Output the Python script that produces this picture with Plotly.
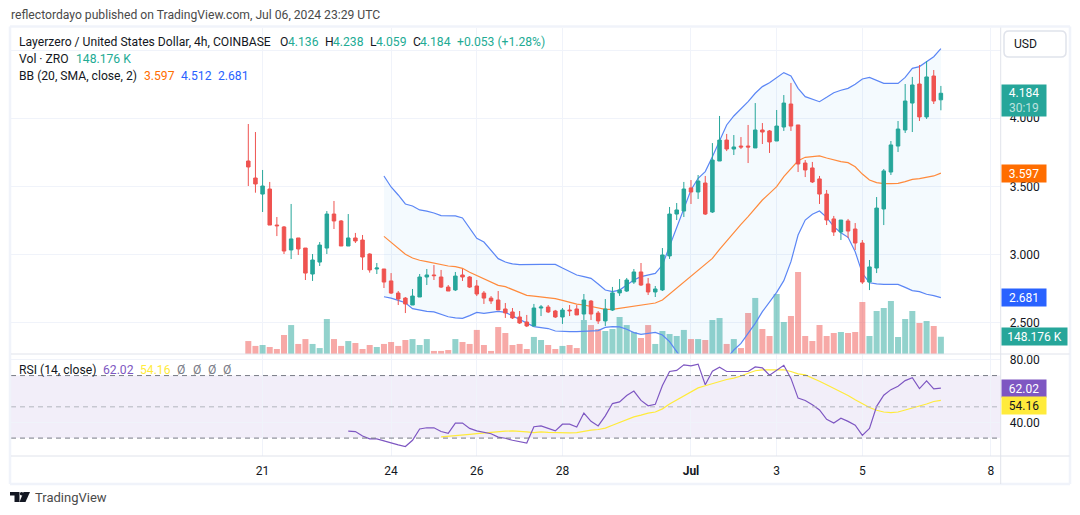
import plotly.graph_objects as go

W, H = 1080, 515

# OHLC of the 4h ZRO/USD bars, oldest first
opens = [3.686,3.561,3.443,3.480,3.215,3.201,3.032,3.120,3.046,2.855,2.943,3.046,3.296,3.245,3.061,3.120,3.105,3.002,2.892,2.892,
         2.804,2.715,2.678,2.627,2.686,2.833,2.848,2.833,2.759,2.738,2.848,2.833,2.767,2.715,2.678,2.664,2.598,2.576,2.539,2.502,
         2.473,2.605,2.612,2.583,2.539,2.590,2.598,2.561,2.656,2.568,2.510,2.590,2.716,2.730,2.796,2.870,2.782,2.723,2.738,2.988,
         3.296,3.318,3.488,3.458,3.524,3.311,3.686,3.840,3.774,3.796,3.796,3.782,3.914,3.907,3.833,3.936,4.105,3.951,3.671,3.635,
         3.554,3.443,3.260,3.164,3.245,3.186,3.083,2.796,2.899,3.333,3.605,3.796,3.914,4.112,4.252,4.010,4.311,4.136]
highs = [3.958,3.899,3.620,3.532,3.274,3.208,3.370,3.120,3.046,3.002,3.090,3.318,3.392,3.252,3.296,3.157,3.142,3.007,2.936,2.892,
         2.862,2.730,2.686,2.745,2.855,2.892,2.921,2.885,2.774,2.870,2.892,2.840,2.811,2.730,2.693,2.730,2.642,2.605,2.583,2.554,
         2.635,2.627,2.627,2.591,2.605,2.627,2.627,2.708,2.664,2.583,2.671,2.760,2.818,2.826,2.892,2.936,2.826,2.767,3.046,3.348,
         3.377,3.532,3.546,3.583,3.576,3.818,4.017,3.885,3.877,3.862,3.951,4.112,3.965,3.914,4.061,4.171,4.260,3.951,3.693,3.679,
         3.576,3.473,3.282,3.252,3.260,3.230,3.105,2.958,3.421,3.627,3.833,3.980,4.252,4.304,4.392,4.421,4.355,4.238]
lows = [3.502,3.453,3.311,3.215,3.134,3.002,2.965,2.995,2.811,2.804,2.914,3.002,3.186,3.061,3.061,3.083,2.885,2.865,2.855,2.752,
        2.708,2.627,2.568,2.627,2.686,2.774,2.811,2.752,2.730,2.730,2.804,2.752,2.693,2.635,2.635,2.591,2.532,2.524,2.488,2.465,
        2.473,2.546,2.568,2.532,2.488,2.546,2.554,2.517,2.517,2.488,2.473,2.583,2.694,2.723,2.782,2.767,2.701,2.686,2.730,2.966,
        3.252,3.274,3.370,3.407,3.289,3.304,3.686,3.759,3.730,3.774,3.671,3.782,3.811,3.745,3.833,3.907,3.907,3.605,3.568,3.524,
        3.370,3.215,3.135,3.105,3.120,3.032,2.782,2.737,2.862,3.215,3.583,3.752,3.892,3.899,3.980,3.995,4.105,4.059]
closes = [3.642,3.517,3.502,3.215,3.210,3.024,3.113,3.039,2.862,2.958,3.068,3.296,3.245,3.061,3.120,3.098,2.980,2.885,2.899,2.796,
          2.715,2.671,2.635,2.693,2.833,2.848,2.843,2.759,2.730,2.840,2.833,2.759,2.708,2.678,2.657,2.591,2.569,2.532,2.495,2.473,
          2.605,2.612,2.576,2.539,2.590,2.585,2.554,2.664,2.561,2.510,2.598,2.716,2.738,2.811,2.870,2.774,2.723,2.745,2.995,3.296,
          3.326,3.480,3.458,3.539,3.296,3.693,3.840,3.774,3.789,3.789,3.789,3.914,3.899,3.826,3.943,4.112,3.943,3.664,3.620,3.532,
          3.443,3.252,3.164,3.252,3.171,3.083,2.796,2.907,3.340,3.613,3.804,3.921,4.127,4.245,4.010,4.304,4.127,4.184]

# Traded volume per bar, thousands of ZRO
volume_k = [111,69,77,60,43,163,248,86,128,86,51,300,128,69,111,94,43,77,60,86,
            103,69,120,128,77,128,26,26,34,128,103,86,206,77,26,231,180,77,86,43,
            146,120,77,43,69,77,51,291,248,214,197,214,317,248,188,137,248,86,197,171,
            154,206,128,128,120,291,308,86,128,51,351,480,214,154,514,274,325,702,154,111,
            248,154,180,188,180,188,445,154,368,394,454,146,300,368,266,283,240,148.176]

# Bollinger Bands (20, SMA, close, 2), first defined on bar 19
bb_start = 19
bb_upper = [3.576,3.495,3.436,3.370,3.355,3.326,3.318,3.304,3.284,3.284,3.282,3.267,3.193,3.117,3.090,3.032,2.968,
            2.943,2.929,2.924,2.926,2.926,2.926,2.926,2.926,2.899,2.875,2.848,2.836,2.823,2.782,2.737,2.725,2.737,2.774,2.811,2.836,
            2.848,2.860,2.921,3.056,3.198,3.338,3.473,3.559,3.608,3.718,3.840,3.951,4.017,4.066,4.122,4.184,4.233,4.262,4.301,4.336,
            4.311,4.220,4.159,4.139,4.122,4.154,4.188,4.206,4.220,4.250,4.289,4.301,4.277,4.257,4.257,4.257,4.301,4.367,4.380,4.416,4.453,4.512]
bb_basis = [3.132,3.088,3.044,3.000,2.973,2.956,2.946,2.934,2.921,2.914,2.909,2.897,2.868,2.843,2.823,2.799,2.772,
            2.762,2.742,2.718,2.698,2.693,2.688,2.683,2.674,2.661,2.647,2.634,2.627,2.615,2.605,2.595,2.595,2.603,2.610,2.617,2.625,
            2.632,2.642,2.664,2.708,2.752,2.801,2.845,2.889,2.926,2.970,3.037,3.100,3.159,3.220,3.277,3.338,3.399,3.448,3.497,3.571,
            3.632,3.688,3.713,3.718,3.723,3.708,3.693,3.681,3.674,3.644,3.590,3.546,3.527,3.519,3.519,3.522,3.534,3.551,3.556,3.566,3.576,3.597]
bb_lower = [2.688,2.678,2.661,2.644,2.600,2.590,2.580,2.576,2.558,2.541,2.532,2.529,2.549,2.573,2.566,2.573,2.580,
            2.573,2.547,2.517,2.493,2.468,2.461,2.454,2.436,2.431,2.431,2.431,2.434,2.436,2.439,2.463,2.468,2.466,2.449,2.424,2.412,
            2.419,2.426,2.407,2.358,2.284,2.211,2.170,2.150,2.170,2.180,2.200,2.235,2.296,2.345,2.419,2.492,2.578,2.647,2.720,2.806,
            2.946,3.142,3.252,3.294,3.318,3.272,3.203,3.159,3.125,3.019,2.860,2.791,2.782,2.779,2.779,2.779,2.757,2.733,2.725,2.706,2.696,2.681]

# RSI (14) and its moving average
rsi_start = 14
rsi = [34.4,34.2,31.3,29.5,29.5,28.2,26.6,25.7,24.6,28.6,35.8,36.6,36.6,34.2,33.1,39.6,39.6,36.2,34.6,33.7,32.8,30.6,29.9,28.6,27.7,26.8,
       37.3,37.8,36.2,34.6,38.9,38.9,37.1,46.0,40.7,37.8,44.2,52.1,53.2,57.2,60.1,54.1,50.7,51.6,63.7,72.6,73.3,76.9,76.2,77.3,64.1,72.8,
       75.3,72.6,72.6,72.6,72.6,75.5,74.9,70.2,73.3,76.6,68.2,55.6,54.1,51.4,48.0,42.0,39.6,42.7,40.7,38.2,31.7,36.2,50.3,57.4,61.0,63.2,
       66.8,68.6,61.7,66.6,61.5,62.02]
rsi_ma_start = 27
rsi_ma = [30.8,31.3,31.7,32.2,32.4,32.8,33.3,33.5,34.0,34.4,34.6,34.4,34.0,33.5,34.0,33.7,33.5,33.3,33.3,33.5,34.4,35.1,35.5,36.4,38.2,
          40.0,41.8,43.6,44.7,46.0,46.7,48.7,51.8,54.5,57.0,59.7,62.1,63.5,64.8,66.4,67.5,68.4,69.7,71.5,73.1,73.7,73.7,73.7,73.7,72.6,71.1,
          70.4,68.6,66.4,64.1,61.9,59.7,57.2,54.5,52.1,49.6,47.8,46.7,46.3,46.7,48.0,49.2,50.3,51.8,53.4,54.16]

# Date labels and the bar each one falls on
tick_bars = [2, 20, 32, 44, 62, 74, 86, 104]
tick_labels = ["21", "24", "26", "28", "<b>Jul</b>", "3", "5", "8"]
# The 4.5 line keeps its grid rule, but the currency button sits where its label would go
price_ticks = [2.5, 3.0, 3.5, 4.0, 4.5]
price_labels = ["2.500", "3.000", "3.500", "4.000", ""]
rsi_ticks = [40, 80]

RED, GREEN = "#ef5350", "#26a69a"
TEXT, GRID, EDGE = "#131722", "#f0f3fa", "#e0e3eb"
FONT = "Roboto"
TEXT_SIZE = 12.15

# Pane geometry, in window pixels
LEFT, RIGHT, OUTER = 11.0, 1000.7, 1069.5
MAIN_TOP, MAIN_BOT, RSI_BOT, FRAME_BOT = 27.5, 354.0, 456.0, 484.0
BAR0_X, BAR_DX = 248.3, 7.14


def fx(px):
    return px / W


def fy(px):
    return 1 - px / H


bars = list(range(len(closes)))
x_range = [(LEFT - BAR0_X) / BAR_DX, (RIGHT - BAR0_X) / BAR_DX]
price_range = [2.2669, 4.6676]
volume_range = [0, 2796]
rsi_range = [18.55, 83.8]

vol_colors = ["rgba(38,166,154,0.5)" if c >= o else "rgba(239,83,80,0.5)" for o, c in zip(opens, closes)]
bb_x = bars[bb_start:]
rsi_x = bars[rsi_start:]

fig = go.Figure()

fig.add_trace(go.Bar(x=bars, y=volume_k, marker=dict(color=vol_colors, line_width=0), yaxis="y", xaxis="x"))

fig.add_trace(go.Scatter(x=bb_x, y=bb_upper, mode="lines", line=dict(color="#5b86f5", width=1.2), yaxis="y2"))
fig.add_trace(go.Scatter(x=bb_x, y=bb_lower, mode="lines", line=dict(color="#5b86f5", width=1.2),
                         fill="tonexty", fillcolor="rgba(33,150,243,0.05)", yaxis="y2"))
fig.add_trace(go.Scatter(x=bb_x, y=bb_basis, mode="lines", line=dict(color="#ff8a3c", width=1.2), yaxis="y2"))

fig.add_trace(go.Candlestick(
    x=bars, open=opens, high=highs, low=lows, close=closes, yaxis="y3", whiskerwidth=0,
    increasing=dict(line=dict(color=GREEN, width=1), fillcolor=GREEN),
    decreasing=dict(line=dict(color=RED, width=1), fillcolor=RED),
))

# Tint where RSI leaves the 30-70 band
fig.add_trace(go.Scatter(x=rsi_x, y=[max(v, 70) for v in rsi], mode="none", yaxis="y4"))
fig.add_trace(go.Scatter(x=rsi_x, y=[70] * len(rsi), mode="none", fill="tonexty",
                         fillcolor="rgba(76,175,80,0.10)", yaxis="y4"))
fig.add_trace(go.Scatter(x=rsi_x, y=[min(v, 30) for v in rsi], mode="none", yaxis="y4"))
fig.add_trace(go.Scatter(x=rsi_x, y=[30] * len(rsi), mode="none", fill="tonexty",
                         fillcolor="rgba(239,83,80,0.10)", yaxis="y4"))

fig.add_trace(go.Scatter(x=bars[rsi_ma_start:], y=rsi_ma, mode="lines", line=dict(color="#ffeb3b", width=1.2), yaxis="y4"))
fig.add_trace(go.Scatter(x=rsi_x, y=rsi, mode="lines", line=dict(color="#7e57c2", width=1.2), yaxis="y4"))


def band(y0, y1, **kw):
    return dict(type="rect", xref="x domain", yref="y4", x0=0, x1=1, y0=y0, y1=y1, layer="below", line_width=0, **kw)


def level(y, color):
    return dict(type="line", xref="x domain", yref="y4", x0=0, x1=1, y0=y, y1=y, layer="above",
                line=dict(color=color, width=1, dash="5px,4px"))


def rule(x0, y0, x1, y1, color=EDGE, width=1):
    return dict(type="line", xref="paper", yref="paper", x0=fx(x0), x1=fx(x1), y0=fy(y0), y1=fy(y1),
                line=dict(color=color, width=width), layer="above")


def solid(points):
    path = "M " + " L ".join(f"{fx(a):.5f},{fy(b):.5f}" for a, b in points) + " Z"
    return dict(type="path", xref="paper", yref="paper", path=path, fillcolor=TEXT, line_width=0)


def rounded(x0, y0, x1, y1, r):
    p = (f"M {fx(x0 + r):.5f},{fy(y0):.5f} L {fx(x1 - r):.5f},{fy(y0):.5f} Q {fx(x1):.5f},{fy(y0):.5f} {fx(x1):.5f},{fy(y0 + r):.5f} "
         f"L {fx(x1):.5f},{fy(y1 - r):.5f} Q {fx(x1):.5f},{fy(y1):.5f} {fx(x1 - r):.5f},{fy(y1):.5f} "
         f"L {fx(x0 + r):.5f},{fy(y1):.5f} Q {fx(x0):.5f},{fy(y1):.5f} {fx(x0):.5f},{fy(y1 - r):.5f} "
         f"L {fx(x0):.5f},{fy(y0 + r):.5f} Q {fx(x0):.5f},{fy(y0):.5f} {fx(x0 + r):.5f},{fy(y0):.5f} Z")
    return dict(type="path", xref="paper", yref="paper", path=p, line=dict(color=EDGE, width=1.5), fillcolor="white")


shapes = [
    band(30, 70, fillcolor="rgba(126,87,194,0.1)"),
    level(70, "#787b86"), level(50, "#b2b5be"), level(30, "#787b86"),
    rule(10, 26.5, 1070, 26.5, GRID, 2.5), rule(10, 484, 1070, 484, GRID, 2.5),
    rule(10, 26.5, 10, 484, GRID, 2.5), rule(1070, 26.5, 1070, 484, GRID, 2.5),
    rule(LEFT, MAIN_BOT, OUTER, MAIN_BOT), rule(LEFT, RSI_BOT, OUTER, RSI_BOT),
    rule(RIGHT, MAIN_TOP, RIGHT, FRAME_BOT),
    rounded(1004, 31, 1066, 57, 5),
    # Brand mark next to the wordmark
    solid([(10, 492), (19.5, 492), (19.5, 502), (14.5, 502), (14.5, 495.5), (10, 495.5)]),
    solid([(23.5, 492), (30, 492), (25.5, 502), (19.5, 502)]),
    dict(type="circle", xref="paper", yref="paper", x0=fx(19.8), x1=fx(23.4), y0=fy(492), y1=fy(495.6),
         fillcolor=TEXT, line_width=0),
]


def label(x, y, text, color=TEXT, size=TEXT_SIZE):
    return dict(xref="paper", yref="paper", x=fx(x), y=fy(y), text=text, showarrow=False, xanchor="left", yanchor="middle",
                font=dict(family=FONT, size=size, color=color), borderpad=0)


def tag(y, yref, text, bg, fg="white", w=44, h=17, shift=0):
    return dict(xref="paper", yref=yref, x=fx(RIGHT), y=y, yshift=shift, text=text, showarrow=False, xanchor="left",
                yanchor="middle", bgcolor=bg, width=w, height=h, align="center", borderpad=0,
                font=dict(family=FONT, size=12, color=fg))


VAL = "#22ab94"
annotations = [
    label(10, 15, "reflectordayo published on TradingView.com, Jul 06, 2024 23:29 UTC", "#4a4a4a"),
    label(18, 42, "Layerzero / United States Dollar, 4h, COINBASE"),
    label(279, 42, "O"), label(287, 42, "4.136", VAL),
    label(324, 42, "H"), label(332, 42, "4.238", VAL),
    label(369, 42, "L"), label(375, 42, "4.059", VAL),
    label(412, 42, "C"), label(419, 42, "4.184", VAL),
    label(456, 42, "+0.053 (+1.28%)", VAL),
    label(18, 59, "Vol · ZRO"), label(75, 59, "148.176 K", VAL),
    label(18, 76, "BB (20, SMA, close, 2)"), label(143, 76, "3.597", "#ff6d00"),
    label(180, 76, "4.512", "#2962ff"), label(217, 76, "2.681", "#2962ff"),
    label(18, 370, "RSI (14, close)"), label(102, 370, "62.02", "#7e57c2"),
    label(139, 370, "54.16", "#ffeb3b"), label(176, 370, "Ø", "#787b86"), label(192, 370, "Ø", "#787b86"),
    label(207, 370, "Ø", "#787b86"), label(222, 370, "Ø", "#787b86"),
    label(34, 497, "TradingView", "#4a4a4a", 13),
    label(1013, 44, "USD"),
    tag(closes[-1], "y3", f"{closes[-1]:.3f}<br><span style='color:rgba(255,255,255,0.7)'>30:19</span>", GREEN, h=31, shift=-7.4),
    tag(bb_basis[-1], "y3", f"{bb_basis[-1]:.3f}", "#ff6d00"),
    tag(bb_lower[-1], "y3", f"{bb_lower[-1]:.3f}", "#2962ff"),
    tag(volume_k[-1], "y", "148.176 K", GREEN, w=65),
    tag(rsi[-1], "y4", f"{rsi[-1]:.2f}", "#7e57c2"),
    tag(rsi_ma[-1], "y4", f"{rsi_ma[-1]:.2f}", "#ffeb3b", fg=TEXT, shift=-5.3),
]

fig.update_layout(
    width=W, height=H, margin=dict(l=0, r=0, t=0, b=0, pad=0, autoexpand=False),
    paper_bgcolor="white", plot_bgcolor="white", showlegend=False, hovermode=False,
    bargap=0.16, boxgap=0.3,
    font=dict(family=FONT, size=12, color=TEXT),
    xaxis=dict(domain=[fx(LEFT), fx(RIGHT)], range=x_range, anchor="y4", tickmode="array", tickvals=tick_bars,
               ticktext=tick_labels, showgrid=True, gridcolor=GRID, zeroline=False, showline=False, ticks="",
               ticklabelstandoff=6, tickfont=dict(family=FONT, size=12, color=TEXT), rangeslider=dict(visible=False)),
    yaxis=dict(domain=[fy(MAIN_BOT), fy(MAIN_TOP)], range=volume_range, showgrid=False, zeroline=False,
               showticklabels=False, ticks="", anchor="x"),
    yaxis2=dict(domain=[fy(MAIN_BOT), fy(MAIN_TOP)], range=price_range, overlaying="y", side="right", showgrid=False,
                zeroline=False, showticklabels=False, ticks="", anchor="x"),
    yaxis3=dict(domain=[fy(MAIN_BOT), fy(MAIN_TOP)], range=price_range, overlaying="y", side="right", anchor="x",
                tickmode="array", tickvals=price_ticks, ticktext=price_labels, showgrid=True, gridcolor=GRID, zeroline=False,
                ticks="", ticklabelstandoff=8, tickfont=dict(family=FONT, size=12, color=TEXT)),
    yaxis4=dict(domain=[fy(RSI_BOT), fy(MAIN_BOT)], range=rsi_range, side="right", anchor="x",
                tickmode="array", tickvals=rsi_ticks, tickformat=".2f", showgrid=True, gridcolor=GRID, zeroline=False,
                ticks="", ticklabelstandoff=8, tickfont=dict(family=FONT, size=12, color=TEXT)),
    shapes=shapes, annotations=annotations,
)

fig.write_html("out.html", config=dict(displayModeBar=False))
